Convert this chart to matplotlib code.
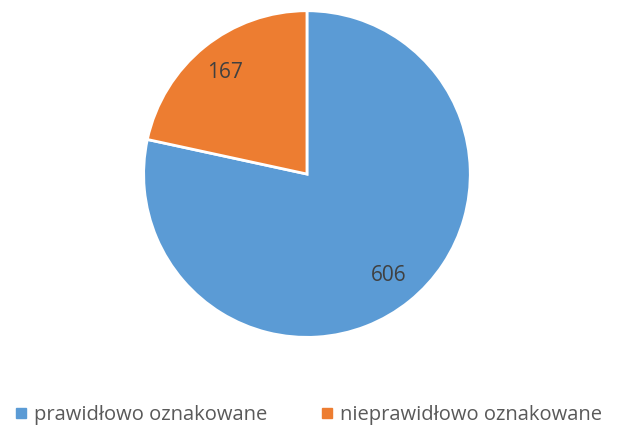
import matplotlib
matplotlib.use('Agg')
import matplotlib.pyplot as plt
from matplotlib.lines import Line2D

# Chart data
labels = ['prawidłowo oznakowane', 'nieprawidłowo oznakowane']
values = [606, 167]
colors = ['#5B9BD5', '#ED7D31']

plt.rcParams['font.family'] = ['Open Sans', 'DejaVu Sans']

fig = plt.figure(figsize=(6.17, 4.29), dpi=100)
ax = fig.add_axes([0.2301, 0.2098, 0.5348, 0.769])

wedges, texts, autotexts = ax.pie(
    values, colors=colors, startangle=90, counterclock=False,
    radius=1.0, autopct=lambda p: '{:.0f}'.format(p * sum(values) / 100),
    pctdistance=0.8, wedgeprops=dict(edgecolor='white', linewidth=2),
    textprops=dict(color='#404040', fontsize=15))
ax.set_xlim(-1.01, 1.01)
ax.set_ylim(-1.01, 1.01)
ax.set_aspect('equal')
ax.axis('off')

handles = [Line2D([], [], marker='s', linestyle='', markersize=7,
                  markerfacecolor=c, markeredgecolor=c) for c in colors]
leg = fig.legend(handles, labels, loc='lower center', bbox_to_anchor=(0.5, -0.032),
                 ncol=2, frameon=False, fontsize=14.5, handlelength=0.6,
                 handletextpad=0.35, columnspacing=2.7, labelcolor='#595959')

fig.savefig('out.png', dpi=100)
plt.close(fig)
